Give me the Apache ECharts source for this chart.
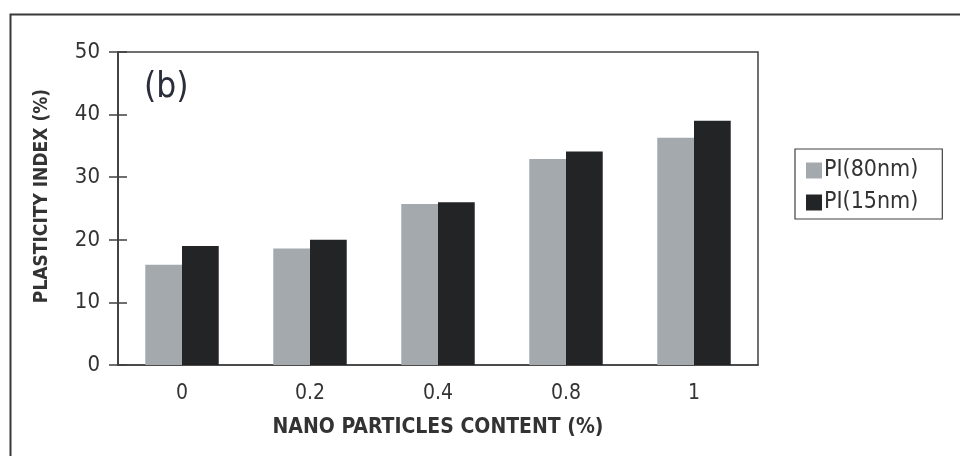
<!DOCTYPE html>
<html>
<head>
<meta charset="utf-8">
<script src="https://cdn.jsdelivr.net/npm/echarts@6/dist/echarts.min.js"></script>
<style>html,body{margin:0;padding:0;background:#fff;}#c{width:960px;height:456px;}</style>
</head>
<body>
<div id="c"></div>
<script>
const categories = ['0', '0.2', '0.4', '0.8', '1'];
const pi80 = [16, 18.6, 25.7, 32.9, 36.3];
const pi15 = [19, 20, 26, 34.1, 39];
const seriesNames = ['PI(80nm)', 'PI(15nm)'];
const yTicks = [0, 10, 20, 30, 40, 50];
const xTitle = 'NANO PARTICLES CONTENT (%)';
const yTitle = 'PLASTICITY INDEX (%)';

const FONT = '"DejaVu Sans Condensed", "Open Sans", sans-serif';
const TXT = '#333333';
const AX = '#404040';

const chart = echarts.init(document.getElementById('c'), null, {renderer: 'canvas'});
chart.setOption({
  animation: false,
  backgroundColor: '#fff',
  textStyle: {fontFamily: FONT},
  grid: {left: 118, top: 52, width: 640, height: 313, show: true, borderColor: AX, borderWidth: 1.5, backgroundColor: 'transparent'},
  legend: {
    orient: 'vertical', left: 795, top: 149,
    data: seriesNames,
    icon: 'rect', itemWidth: 16, itemHeight: 16, itemGap: 9,
    padding: [10, 24, 5, 11],
    borderColor: AX, borderWidth: 1.2,
    textStyle: {fontFamily: FONT, fontSize: 23, color: TXT, padding: [0, 0, 0, -3]}
  },
  xAxis: {
    type: 'category', data: categories,
    axisLine: {lineStyle: {color: AX, width: 1.5}},
    axisTick: {show: false},
    axisLabel: {fontFamily: FONT, fontSize: 21, color: TXT, margin: 18},
    name: xTitle, nameLocation: 'middle', nameGap: 52,
    nameTextStyle: {fontFamily: FONT, fontSize: 21, fontWeight: 'bold', color: TXT}
  },
  yAxis: [{
    type: 'value', min: 0, max: 50, interval: 10,
    splitLine: {show: false},
    axisLine: {show: true, lineStyle: {color: AX, width: 1.5}},
    axisTick: {show: true, length: 9, lineStyle: {color: AX, width: 1.5}},
    axisLabel: {fontFamily: FONT, fontSize: 22, color: TXT, margin: 18,
      formatter: v => yTicks.includes(v) ? String(v) : ''}
  }, {
    type: 'value', min: 0, max: 50, interval: 10, position: 'left', offset: 0,
    splitLine: {show: false},
    axisLine: {show: true, lineStyle: {color: AX, width: 1.5}},
    axisTick: {show: true, inside: true, length: 9, lineStyle: {color: AX, width: 1.5}},
    axisLabel: {show: false}
  }],
  graphic: [
    {type: 'rect', left: 8, top: 12, shape: {width: 1000, height: 500}, style: {fill: 'none', stroke: '#383838', lineWidth: 2}, silent: true, z: 100},
    {type: 'text', left: 144, top: 70, style: {text: '(b)', font: '35px ' + FONT, fill: '#2a2d3a'}},
    {type: 'text', x: 42, y: 196, rotation: Math.PI / 2,
      style: {text: yTitle, font: 'bold 19px ' + FONT, fill: TXT, align: 'center', verticalAlign: 'middle'}}
  ],
  series: [
    {name: seriesNames[0], type: 'bar', data: pi80, barGap: 0, barCategoryGap: '42.6%', itemStyle: {color: '#a4a9ae'}},
    {name: seriesNames[1], type: 'bar', data: pi15, barGap: 0, barCategoryGap: '42.6%', itemStyle: {color: '#232426'}}
  ]
});
</script>
</body>
</html>
